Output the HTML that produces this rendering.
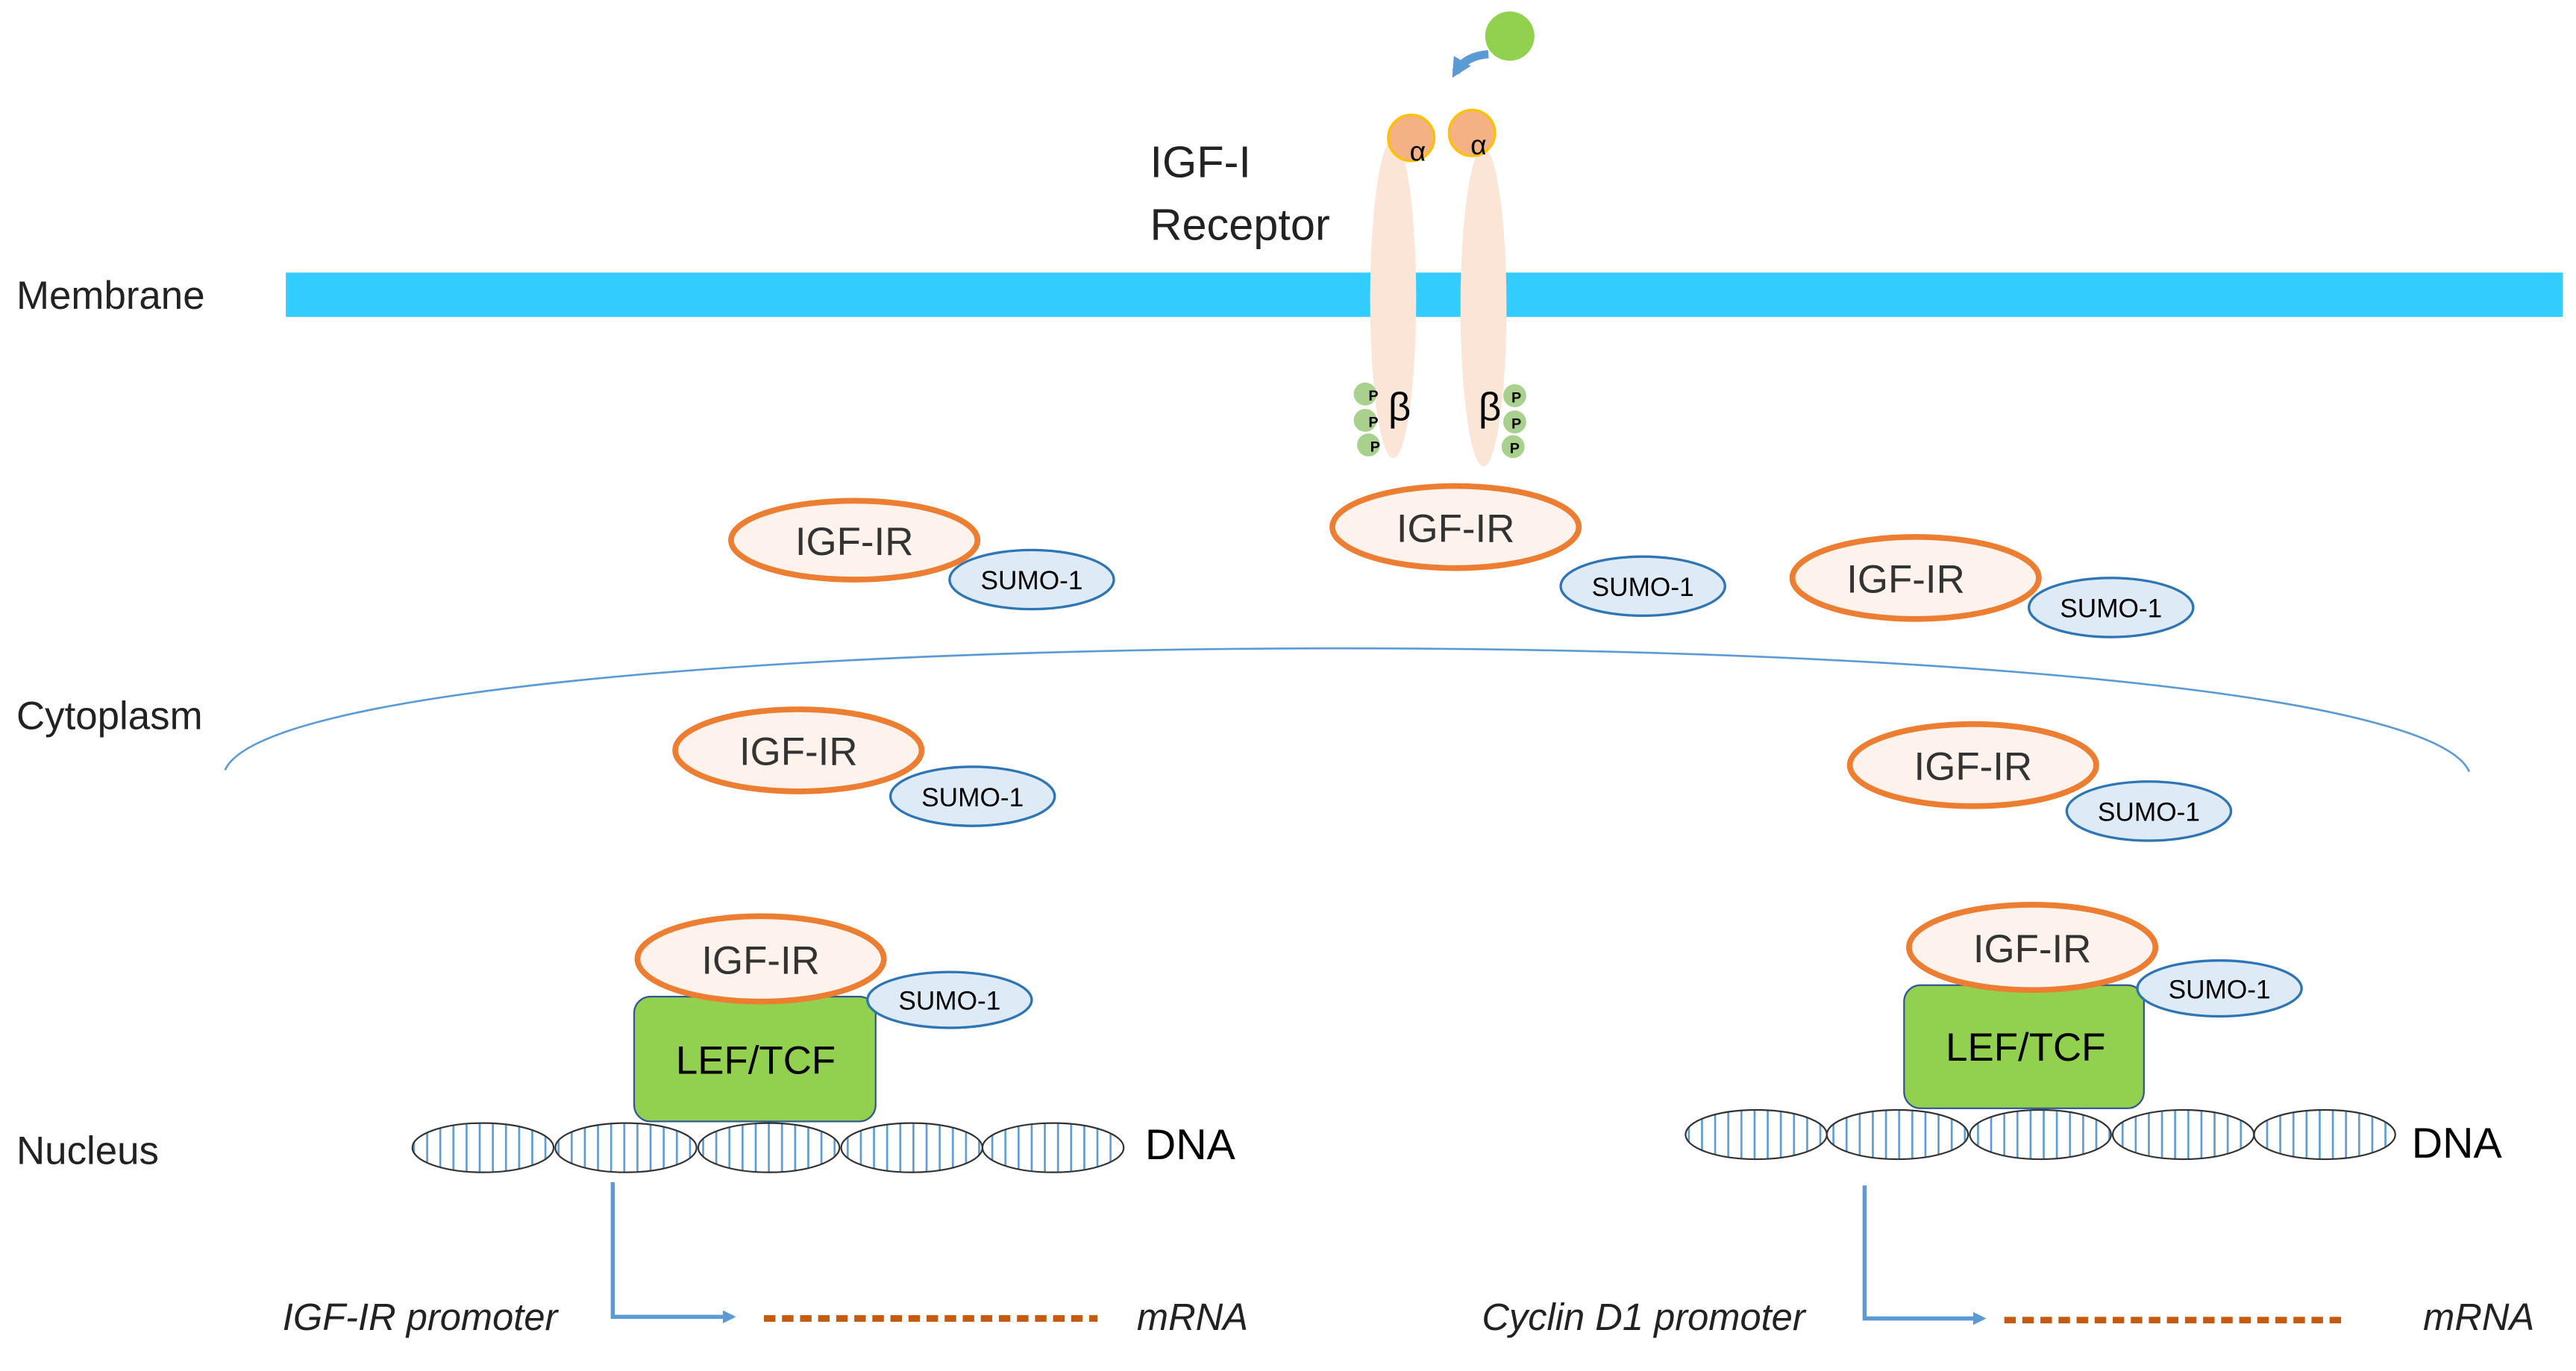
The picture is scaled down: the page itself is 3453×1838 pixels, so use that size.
<!DOCTYPE html>
<html><head><meta charset="utf-8"><style>
html,body{margin:0;padding:0;background:#fff}
svg{display:block}
text{font-family:"Liberation Sans",sans-serif}
</style></head><body>
<svg width="3453" height="1838" viewBox="0 0 1568 835" preserveAspectRatio="none" xmlns="http://www.w3.org/2000/svg">
<defs>
<pattern id="dna" width="8" height="40" patternUnits="userSpaceOnUse">
<rect width="8" height="40" fill="#fff"/><line x1="4" y1="0" x2="4" y2="40" stroke="#5b9bd5" stroke-width="1.2"/></pattern>
<marker id="ah" markerWidth="8" markerHeight="8" refX="6" refY="4" orient="auto" markerUnits="userSpaceOnUse"><path d="M0,0 L8,4 L0,8 Z" fill="#5b9bd5"/></marker>
<marker id="ah2" markerWidth="12" markerHeight="12" refX="8" refY="6" orient="auto" markerUnits="userSpaceOnUse"><path d="M0,0 L12,6 L0,12 Z" fill="#5b9bd5"/></marker>
</defs>
<rect x="174" y="166" width="1386" height="27" fill="#33ccff"/>
<text x="10" y="188" font-size="24" fill="#222">Membrane</text>
<text x="10" y="444" font-size="24" fill="#222">Cytoplasm</text>
<text x="10" y="709" font-size="24" fill="#222">Nucleus</text>
<text x="700" y="108" font-size="27" fill="#222">IGF-I</text>
<text x="700" y="146" font-size="27" fill="#222">Receptor</text>
<!-- receptor -->
<ellipse cx="848" cy="182" rx="14" ry="97" fill="#fbe5d6"/>
<ellipse cx="903" cy="187" rx="14" ry="97" fill="#fbe5d6"/>
<circle cx="859" cy="84" r="14" fill="#f4b183" stroke="#ffc000" stroke-width="1.5"/>
<circle cx="896" cy="81" r="14" fill="#f4b183" stroke="#ffc000" stroke-width="1.5"/>
<text x="863" y="98" font-size="17" text-anchor="middle">α</text>
<text x="900" y="94" font-size="17" text-anchor="middle">α</text>
<circle cx="919" cy="22" r="15" fill="#92d050"/>
<path d="M906,33 Q892,34 886,44" fill="none" stroke="#5b9bd5" stroke-width="5" marker-end="url(#ah2)"/>
<text x="845" y="256" font-size="24">β</text>
<text x="900" y="256" font-size="24">β</text>
<g fill="#a9d18e"><circle cx="831" cy="240" r="7"/><circle cx="831" cy="256" r="7"/><circle cx="833" cy="271" r="7"/><circle cx="922" cy="241" r="7"/><circle cx="922" cy="257" r="7"/><circle cx="921" cy="272" r="7"/></g>
<g font-size="9" font-weight="bold"><text x="833" y="244">P</text><text x="833" y="260">P</text><text x="834" y="275">P</text><text x="920" y="245">P</text><text x="920" y="261">P</text><text x="919" y="276">P</text></g>
<!-- nucleus arc -->
<path d="M137,469 C180,370 1460,370 1503,470" fill="none" stroke="#5b9bd5" stroke-width="1.2"/>
<g font-size="16">
<g><ellipse cx="628" cy="353" rx="50" ry="18" fill="#deebf7" stroke="#2e75b6" stroke-width="1.5"/><text x="628" y="359" text-anchor="middle">SUMO-1</text>
<ellipse cx="520" cy="329" rx="75" ry="24" fill="#fdf3ec" stroke="#ed7d31" stroke-width="3.5"/><text x="520" y="338" font-size="24" text-anchor="middle" fill="#333">IGF-IR</text></g>
<g><ellipse cx="1000" cy="357" rx="50" ry="18" fill="#deebf7" stroke="#2e75b6" stroke-width="1.5"/><text x="1000" y="363" text-anchor="middle">SUMO-1</text>
<ellipse cx="886" cy="321" rx="75" ry="25" fill="#fdf3ec" stroke="#ed7d31" stroke-width="3.5"/><text x="886" y="330" font-size="24" text-anchor="middle" fill="#333">IGF-IR</text></g>
<g><ellipse cx="1285" cy="370" rx="50" ry="18" fill="#deebf7" stroke="#2e75b6" stroke-width="1.5"/><text x="1285" y="376" text-anchor="middle">SUMO-1</text>
<ellipse cx="1166" cy="352" rx="75" ry="25" fill="#fdf3ec" stroke="#ed7d31" stroke-width="3.5"/><text x="1160" y="361" font-size="24" text-anchor="middle" fill="#333">IGF-IR</text></g>
<g><ellipse cx="592" cy="485" rx="50" ry="18" fill="#deebf7" stroke="#2e75b6" stroke-width="1.5"/><text x="592" y="491" text-anchor="middle">SUMO-1</text>
<ellipse cx="486" cy="457" rx="75" ry="25" fill="#fdf3ec" stroke="#ed7d31" stroke-width="3.5"/><text x="486" y="466" font-size="24" text-anchor="middle" fill="#333">IGF-IR</text></g>
<g><ellipse cx="1308" cy="494" rx="50" ry="18" fill="#deebf7" stroke="#2e75b6" stroke-width="1.5"/><text x="1308" y="500" text-anchor="middle">SUMO-1</text>
<ellipse cx="1201" cy="466" rx="75" ry="25" fill="#fdf3ec" stroke="#ed7d31" stroke-width="3.5"/><text x="1201" y="475" font-size="24" text-anchor="middle" fill="#333">IGF-IR</text></g>
</g>
<g font-size="16">
<rect x="386" y="607" width="147" height="76" rx="10" fill="#92d050" stroke="#2f5597" stroke-width="1"/>
<text x="460" y="654" font-size="24" text-anchor="middle">LEF/TCF</text>
<ellipse cx="578" cy="609" rx="50" ry="17" fill="#deebf7" stroke="#2e75b6" stroke-width="1.5"/><text x="578" y="615" text-anchor="middle">SUMO-1</text>
<ellipse cx="463" cy="584" rx="75" ry="26" fill="#fdf3ec" stroke="#ed7d31" stroke-width="3.5"/><text x="463" y="593" font-size="24" text-anchor="middle" fill="#333">IGF-IR</text>
<rect x="1159" y="600" width="146" height="75" rx="10" fill="#92d050" stroke="#2f5597" stroke-width="1"/>
<text x="1233" y="646" font-size="24" text-anchor="middle">LEF/TCF</text>
<ellipse cx="1351" cy="602" rx="50" ry="17" fill="#deebf7" stroke="#2e75b6" stroke-width="1.5"/><text x="1351" y="608" text-anchor="middle">SUMO-1</text>
<ellipse cx="1237" cy="577" rx="75" ry="26" fill="#fdf3ec" stroke="#ed7d31" stroke-width="3.5"/><text x="1237" y="586" font-size="24" text-anchor="middle" fill="#333">IGF-IR</text>
</g>
<g fill="url(#dna)" stroke="#333" stroke-width="1">
<ellipse cx="294" cy="699" rx="43" ry="15"/><ellipse cx="381" cy="699" rx="43" ry="15"/><ellipse cx="468" cy="699" rx="43" ry="15"/><ellipse cx="555" cy="699" rx="43" ry="15"/><ellipse cx="641" cy="699" rx="43" ry="15"/>
<ellipse cx="1069" cy="691" rx="43" ry="15"/><ellipse cx="1155" cy="691" rx="43" ry="15"/><ellipse cx="1242" cy="691" rx="43" ry="15"/><ellipse cx="1329" cy="691" rx="43" ry="15"/><ellipse cx="1415" cy="691" rx="43" ry="15"/>
</g>
<text x="697" y="706" font-size="26">DNA</text>
<text x="1468" y="705" font-size="26">DNA</text>
<path d="M373,720 V802 H446" fill="none" stroke="#5b9bd5" stroke-width="2.5" marker-end="url(#ah)"/>
<path d="M1135,722 V803 H1207" fill="none" stroke="#5b9bd5" stroke-width="2.5" marker-end="url(#ah)"/>
<line x1="465" y1="803" x2="668" y2="803" stroke="#c55a11" stroke-width="4" stroke-dasharray="7,4"/>
<line x1="1220" y1="804" x2="1425" y2="804" stroke="#c55a11" stroke-width="4" stroke-dasharray="7,4"/>
<g font-size="23" font-style="italic" fill="#222">
<text x="172" y="810">IGF-IR promoter</text><text x="692" y="810">mRNA</text>
<text x="902" y="810">Cyclin D1 promoter</text><text x="1475" y="810">mRNA</text>
</g>
</svg>
</body></html>
